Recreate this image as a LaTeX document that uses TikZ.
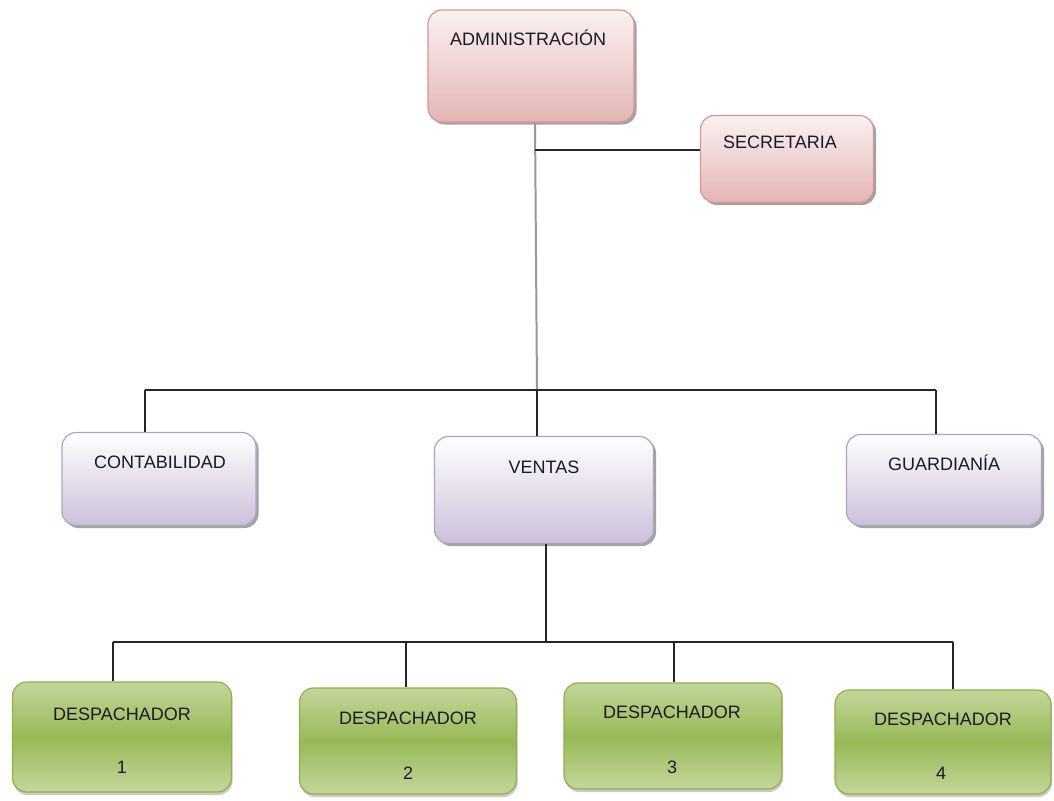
\documentclass[tikz,border=0pt]{standalone}
\usepackage{fontspec}
\setmainfont{Liberation Sans}
\usetikzlibrary{shadows}
\definecolor{pinkedge}{HTML}{D99594}
\definecolor{pinktop}{HTML}{FBF1F1}
\definecolor{pinkbot}{HTML}{E3B5B4}
\definecolor{lilacedge}{HTML}{B2A1C7}
\definecolor{lilactop}{HTML}{FFFFFF}
\definecolor{lilacbot}{HTML}{CCC0DA}
\definecolor{greenedge}{HTML}{8FB04A}
\definecolor{greentop}{HTML}{C3D69B}
\definecolor{greenmid}{HTML}{98B957}
\definecolor{txt}{HTML}{1A1A26}
\tikzset{
  box/.style={rounded corners=14pt, line width=1.2pt, inner sep=0pt},
  boxshadow/.style={drop shadow={shadow xshift=2.5pt, shadow yshift=-2.5pt, fill=black!45, opacity=0.8}},
  redbox/.style={box, boxshadow, draw=pinkedge, top color=pinktop, bottom color=pinkbot},
  lilacbox/.style={box, boxshadow, draw=lilacedge, top color=lilactop, bottom color=lilacbot},
  greenbox/.style={box, draw=greenedge, top color=greentop, bottom color=greentop, middle color=greenmid,
    drop shadow={shadow xshift=1pt, shadow yshift=-3pt, fill=black!35, opacity=0.6}},
  lbl/.style={anchor=base, inner sep=0pt, text=txt, font=\fontsize{18}{20}\selectfont},
  link/.style={line width=1.3pt, draw=black!85},
  glink/.style={line width=2pt, draw=black!40},
}
\begin{document}
\begin{tikzpicture}[x=1pt, y=-1pt]
\useasboundingbox (0,0) rectangle (1054,800);

% junction points of the connector lines
\coordinate (top) at (535,124);
\coordinate (secj) at (535,150);
\coordinate (busA) at (537,390);
\coordinate (busL) at (145,390);
\coordinate (busR) at (936,390);
\coordinate (ventasJ) at (546,642);
\coordinate (busDL) at (113,642);
\coordinate (busD2) at (406,642);
\coordinate (busD3) at (674,642);
\coordinate (busDR) at (953,642);

% boxes
\node[redbox, minimum width=206pt, minimum height=112pt] (admin) at (531,66) {};
\node[redbox, minimum width=173pt, minimum height=87pt] (secr) at (787,159) {};
\node[lilacbox, minimum width=194pt, minimum height=93pt] (cont) at (159,479) {};
\node[lilacbox, minimum width=219pt, minimum height=107pt] (ventas) at (544,490) {};
\node[lilacbox, minimum width=195pt, minimum height=91pt] (guard) at (944,480) {};
\node[greenbox, minimum width=219pt, minimum height=110pt] (d1) at (122,737) {};
\node[greenbox, minimum width=217pt, minimum height=106pt] (d2) at (408,741) {};
\node[greenbox, minimum width=218pt, minimum height=106pt] (d3) at (673,736) {};
\node[greenbox, minimum width=216pt, minimum height=104pt] (d4) at (943,742) {};

% lines
\draw[glink] (admin.south -| top) -- (busA);
\draw[link] (secj) -- (secj -| secr.west);
\draw[link] (busL) -- (busR);
\draw[link] (busL) -- (busL |- cont.north);
\draw[link] (busA) -- (busA |- ventas.north);
\draw[link] (busR) -- (busR |- guard.north);
\draw[link] (ventasJ |- ventas.south) -- (ventasJ);
\draw[link] (busDL) -- (busDR);
\draw[link] (busDL) -- (busDL |- d1.north);
\draw[link] (busD2) -- (busD2 |- d2.north);
\draw[link] (busD3) -- (busD3 |- d3.north);
\draw[link] (busDR) -- (busDR |- d4.north);

% labels
\node[lbl] (adminT) at (528,46) {ADMINISTRACIÓN};
\node[lbl] (secrT) at (780,148) {SECRETARIA};
\node[lbl] (contT) at (160,468) {CONTABILIDAD};
\node[lbl] (ventasT) at (544,473) {VENTAS};
\node[lbl] (guardT) at (944,470) {GUARDIANÍA};
\node[lbl] (d1T) at (122,720) {DESPACHADOR};
\node[lbl] (d1N) at (122,773) {1};
\node[lbl] (d2T) at (408,724) {DESPACHADOR};
\node[lbl] (d2N) at (408,779) {2};
\node[lbl] (d3T) at (672,718) {DESPACHADOR};
\node[lbl] (d3N) at (672,773) {3};
\node[lbl] (d4T) at (943,725) {DESPACHADOR};
\node[lbl] (d4N) at (941,779) {4};
\end{tikzpicture}
\end{document}
